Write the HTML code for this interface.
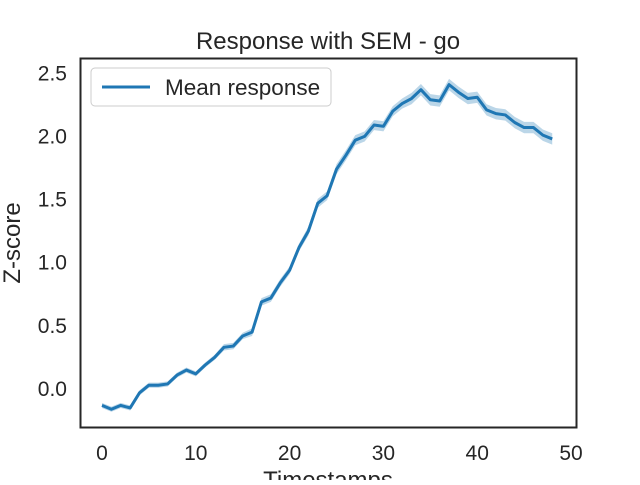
<!DOCTYPE html>
<html><head><meta charset="utf-8"><style>
body{margin:0;background:#fff;}
svg text{font-family:"Liberation Sans","DejaVu Sans",sans-serif;fill:#262626;}
</style></head><body>
<svg id="chart" width="640" height="480" viewBox="0 0 640 480">
<text x="328" y="49" font-size="24" text-anchor="middle">Response with SEM - go</text>
<g id="ticks"></g>
<g id="plot"></g>
<rect x="80.5" y="58.5" width="496" height="369" fill="none" stroke="#262626" stroke-width="2"/>
<text x="328" y="488" font-size="24" text-anchor="middle">Timestamps</text>
<text transform="translate(20,243) rotate(-90)" font-size="24" text-anchor="middle">Z-score</text>
<g>
<rect x="91" y="68" width="240" height="38" rx="4" fill="#fff" stroke="#ccc"/>
<line x1="102" y1="87" x2="150" y2="87" stroke="#1f77b4" stroke-width="3"/>
<text x="165" y="95" font-size="22.5">Mean response</text>
</g>
</svg>
<script>
const meanValues=[-0.13,-0.16,-0.13,-0.15,-0.03,0.03,0.03,0.04,0.11,0.15,0.12,0.19,0.25,0.33,0.34,0.42,0.45,0.69,0.72,0.84,0.94,1.12,1.25,1.47,1.53,1.74,1.85,1.97,2.00,2.09,2.08,2.20,2.26,2.30,2.37,2.29,2.28,2.41,2.35,2.30,2.31,2.21,2.18,2.17,2.11,2.07,2.07,2.01,1.98];
const semValues=[0.02,0.02,0.02,0.02,0.02,0.02,0.02,0.02,0.02,0.02,0.02,0.02,0.02,0.025,0.025,0.025,0.03,0.03,0.03,0.03,0.03,0.03,0.035,0.035,0.035,0.04,0.04,0.04,0.04,0.04,0.04,0.04,0.04,0.045,0.045,0.045,0.045,0.045,0.045,0.045,0.045,0.045,0.045,0.045,0.045,0.045,0.045,0.045,0.045];
const xTicks=[0,10,20,30,40,50];
const yTicks=[0.0,0.5,1.0,1.5,2.0,2.5];
const xs=v=>102+v*9.38;
const ys=v=>389-v*126.3;
const NS="http://www.w3.org/2000/svg";
const tk=document.getElementById('ticks');
xTicks.forEach(t=>{const e=document.createElementNS(NS,'text');
e.setAttribute('x',xs(t));e.setAttribute('y',460);e.setAttribute('font-size','21');e.setAttribute('text-anchor','middle');e.textContent=t;


tk.appendChild(e);});
yTicks.forEach(t=>{const e=document.createElementNS(NS,'text');
e.setAttribute('x',67);e.setAttribute('y',ys(t)+7);e.setAttribute('font-size','21');e.setAttribute('text-anchor','end');e.textContent=t.toFixed(1);


tk.appendChild(e);});
const pl=document.getElementById('plot');
let up=[],lo=[],ln=[];
meanValues.forEach((m,i)=>{up.push(xs(i)+','+ys(m+semValues[i]));lo.unshift(xs(i)+','+ys(m-semValues[i]));ln.push(xs(i)+','+ys(m));});
const band=document.createElementNS(NS,'polygon');
band.setAttribute('points',up.concat(lo).join(' '));band.setAttribute('fill','#1f77b4');band.setAttribute('fill-opacity','0.3');


pl.appendChild(band);
const line=document.createElementNS(NS,'polyline');
line.setAttribute('points',ln.join(' '));line.setAttribute('fill','none');line.setAttribute('stroke','#1f77b4');line.setAttribute('stroke-width','3');line.setAttribute('stroke-linejoin','round');


pl.appendChild(line);
</script>
</body></html>
